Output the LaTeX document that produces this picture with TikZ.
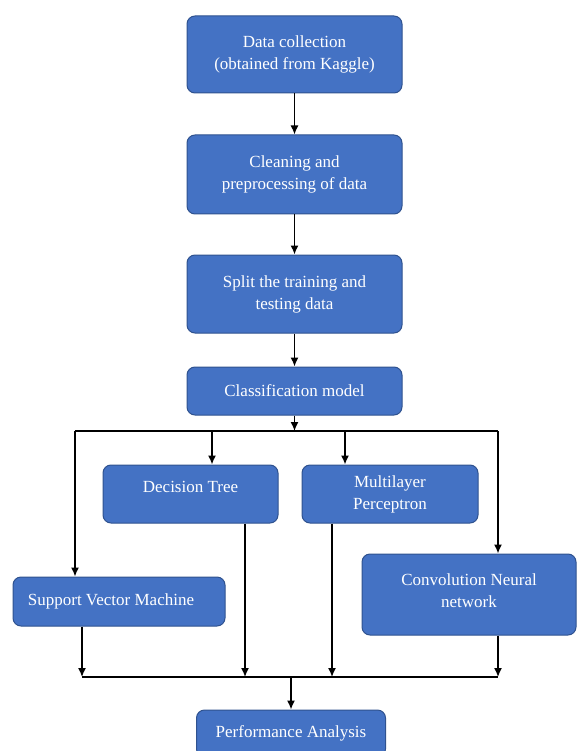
\documentclass[tikz,border=0pt]{standalone}
\usepackage{fontspec}
\setmainfont{Liberation Serif}
\usetikzlibrary{arrows.meta}
\usetikzlibrary{calc,positioning}
\definecolor{boxblue}{HTML}{4472C4}
\definecolor{boxedge}{HTML}{2F528F}

\begin{document}
\begin{tikzpicture}[x=1pt,y=-1pt,>={Latex[length=9pt,width=8pt]},line width=1.5pt,
    stage/.style={rectangle,rounded corners=8pt,draw=boxedge,line width=1pt,fill=boxblue,
      text=white,align=center,inner sep=0pt,font=\fontsize{17}{22}\selectfont}]
            \useasboundingbox (0,0) rectangle (577,751);
            % main chain
            \node[stage,minimum width=215pt,minimum height=77pt] (data) at (294.5,54.5) {Data collection\\(obtained from Kaggle)};
            \node[stage,minimum width=215pt,minimum height=79pt] (clean) at (294.5,174.5) {Cleaning and\\preprocessing of data};
            \node[stage,minimum width=215pt,minimum height=78pt] (split) at (294.5,294) {Split the training and\\testing data};
            \node[stage,minimum width=215pt,minimum height=48pt] (model) at (294.5,391) {Classification model};
            % the four models
            \node[stage,minimum width=175pt,minimum height=58pt] (dtree) at (190.5,494) {Decision Tree\\[-8pt]};
            \node[stage,minimum width=176pt,minimum height=58pt] (mlp) at (390,494) {Multilayer\\Perceptron};
            \node[stage,minimum width=212pt,minimum height=49pt] (svm) at (119,601.5) {Support Vector Machine\hspace{16pt}};
            \node[stage,minimum width=214pt,minimum height=81pt] (cnn) at (469,594.5) {Convolution Neural\\network\\[-14pt]};
            \node[stage,minimum width=189pt,minimum height=47pt] (perf) at (291,733.5) {Performance Analysis};
            % fork and join lines
            \coordinate (fork) at (294.5,431);
            \coordinate (f1) at (75,431);
            \coordinate (f2) at (212,431);
            \coordinate (f3) at (345,431);
            \coordinate (f4) at (498,431);
            \coordinate (join) at (291,677);
            \coordinate (j1) at (82,677);
            \coordinate (j2) at (245,677);
            \coordinate (j3) at (332,677);
            \coordinate (j4) at (498,677);
            \draw [->] (data) -- (clean);
            \draw [->] (clean) -- (split);
            \draw [->] (split) -- (model);
            \draw [->] (model) -- (fork);
            \draw (f1) -- (f4);
            \draw [->] (f1) -- (f1 |- svm.north);
            \draw [->] (f2) -- (f2 |- dtree.north);
            \draw [->] (f3) -- (f3 |- mlp.north);
            \draw [->] (f4) -- (f4 |- cnn.north);
            \draw [->] (j1 |- svm.south) -- (j1);
            \draw [->] (j2 |- dtree.south) -- (j2);
            \draw [->] (j3 |- mlp.south) -- (j3);
            \draw [->] (j4 |- cnn.south) -- (j4);
            \draw (j1) -- (j4);
            \draw [->] (join) -- (perf);
          \end{tikzpicture}
\end{document}
